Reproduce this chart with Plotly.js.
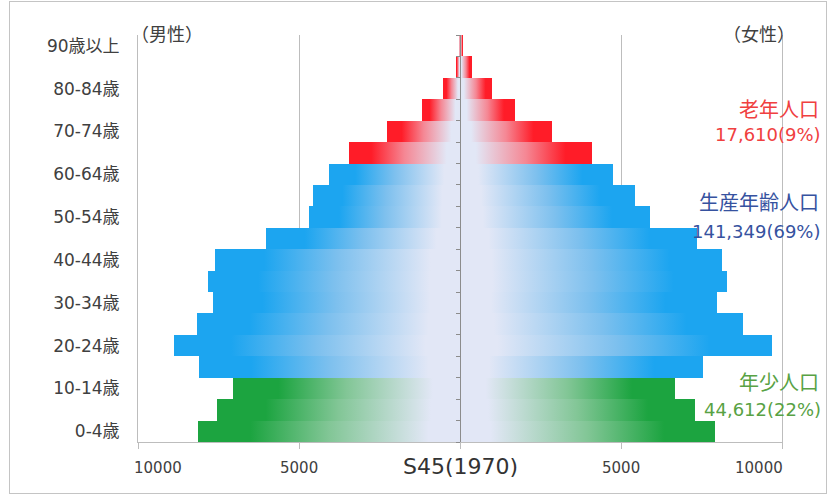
<!DOCTYPE html>
<html>
<head>
<meta charset="utf-8">
<script src="https://cdn.plot.ly/plotly-3.0.1.min.js"></script>
<style>
  html, body { margin: 0; padding: 0; background: #fff; }
  #wrap { position: relative; width: 829px; height: 495px; }
  #chart { width: 829px; height: 495px; }
  #frame { position: absolute; left: 9px; top: 1px; width: 816px; height: 491px;
           border: 1px solid #c4c4c4; pointer-events: none; }
  .js-fill { shape-rendering: crispEdges; }
</style>
</head>
<body>
<div id="wrap"><div id="chart"></div><div id="frame"></div></div>
<script>
// ---- data ----
const ageGroups = ['0-4歳','5-9歳','10-14歳','15-19歳','20-24歳','25-29歳','30-34歳','35-39歳',
  '40-44歳','45-49歳','50-54歳','55-59歳','60-64歳','65-69歳','70-74歳','75-79歳','80-84歳','85-89歳','90歳以上'];
const male   = [8137,7547,7050,8106,8882,8168,7671,7826,7609,6025,4689,4565,4068,3447,2267,1180,528,124,40];
const female = [7919,7298,6677,7547,9689,8789,7981,8292,8137,7360,5900,5435,4752,4100,2857,1708,994,370,100];
// 0 = 年少, 1 = 生産年齢, 2 = 老年
const groupOf = [0,0,0,1,1,1,1,1,1,1,1,1,1,2,2,2,2,2,2];
const groupNames  = ['年少人口','生産年齢人口','老年人口'];
const groupTotals = ['44,612(22%)','141,349(69%)','17,610(9%)'];
const xTickVals   = [-10000,-5000,5000,10000];
const xTickText   = ['10000','5000','5000','10000'];
const chartTitle  = 'S45(1970)';
const sexLabels   = ['（男性）','（女性）'];

// ---- styles ----
const pale = 'rgb(226,231,246)';
const endColors = ['rgb(28,164,64)','rgb(28,165,240)','rgb(255,28,40)'];
const midColors = ['rgb(130,198,150)','rgb(125,192,238)','rgb(245,135,148)'];
const textColors = ['#58a244','#36529f','#f04040'];

function scaleFor(g, reversed) {
  const s = [[0, pale],[0.12, pale],[0.5, midColors[g]],[0.8, endColors[g]],[1, endColors[g]]];
  if (!reversed) return s;
  return s.map(([p,c]) => [1-p, c]).reverse();
}

const traces = [];
ageGroups.forEach((lab, i) => {
  const g = groupOf[i];
  [[-male[i], true], [female[i], false]].forEach(([v, left]) => {
    traces.push({
      type: 'scatter', mode: 'lines',
      x: [0, v, v, 0, 0],
      y: [i-0.5, i-0.5, i+0.5, i+0.5, i-0.5],
      fill: 'toself',
      line: {width: 0},
      fillcolor: endColors[g],
      fillgradient: {
        type: 'horizontal',
        colorscale: scaleFor(g, left),
        start: left ? v : 0,
        stop: left ? 0 : v
      },
      hoverinfo: 'skip', showlegend: false
    });
  });
});
// dummy trace to anchor the centre axis
traces.push({type:'scatter', x:[0], y:[0], yaxis:'y2', mode:'markers', marker:{opacity:0}, hoverinfo:'skip', showlegend:false});

const L = 138, R = 782, T = 35, B = 442;
const px = x => (x - L) / (R - L);
const py = y => (B - y) / (B - T);

const cjk = 'Noto Sans CJK JP, Noto Sans, sans-serif';
const lat = 'DejaVu Sans, Noto Sans CJK JP, sans-serif';
const annotations = [];
// x tick labels
xTickVals.forEach((v, k) => {
  let anchor = 'center', shift = 0;
  if (k === 0) { anchor = 'left'; shift = -6; }
  if (k === xTickVals.length - 1) { anchor = 'right'; shift = 3; }
  annotations.push({x: v, xref: 'x', y: py(468), yref: 'paper', text: xTickText[k],
    showarrow: false, xanchor: anchor, yanchor: 'middle', xshift: shift,
    font: {family: lat, size: 15, color: '#404040'}});
});
// centre title
annotations.push({x: 0, xref: 'x', y: py(467), yref: 'paper', text: chartTitle, showarrow: false,
  xanchor: 'center', yanchor: 'middle', font: {family: lat, size: 22, color: '#333333'}});
// sex labels
annotations.push({x: px(129), xref: 'paper', y: py(33), yref: 'paper', text: sexLabels[0], showarrow: false,
  xanchor: 'left', yanchor: 'middle', font: {family: cjk, size: 18, color: '#404040'}});
annotations.push({x: px(797), xref: 'paper', y: py(33), yref: 'paper', text: sexLabels[1], showarrow: false,
  xanchor: 'right', yanchor: 'middle', font: {family: cjk, size: 18, color: '#404040'}});
// group summaries
const nameY = [381, 201, 108], totY = [409, 231, 134];
[2, 1, 0].forEach(g => {
  annotations.push({x: px(821), xref: 'paper', y: py(nameY[g]), yref: 'paper', text: groupNames[g], showarrow: false,
    xanchor: 'right', yanchor: 'middle', font: {family: cjk, size: 20, color: textColors[g]}});
  annotations.push({x: px(823), xref: 'paper', y: py(totY[g]), yref: 'paper', text: groupTotals[g], showarrow: false,
    xanchor: 'right', yanchor: 'middle', font: {family: lat, size: 18, color: textColors[g]}});
});

const tickIdx = ageGroups.map((_, i) => i).filter(i => i % 2 === 0);

const layout = {
  width: 829, height: 495,
  margin: {l: L, r: 829 - R, t: T, b: 495 - B, pad: 0},
  paper_bgcolor: '#ffffff', plot_bgcolor: '#ffffff',
  showlegend: false,
  xaxis: {
    range: [-10000, 10000], tickvals: [-10000,-5000,0,5000,10000], showticklabels: false,
    showgrid: true, gridcolor: '#bdbdbd', gridwidth: 1, zeroline: false,
    showline: true, linecolor: '#bdbdbd', linewidth: 1,
    ticks: 'outside', ticklen: 6, tickcolor: '#bdbdbd', fixedrange: true
  },
  yaxis: {
    range: [-0.5, 18.5], tickvals: tickIdx, ticktext: tickIdx.map(i => ageGroups[i]),
    showgrid: false, zeroline: false, showline: true, mirror: true, linecolor: '#bdbdbd', linewidth: 1,
    ticks: '', ticklabelstandoff: 14,
    tickfont: {family: lat, size: 17, color: '#404040'}, fixedrange: true
  },
  yaxis2: {
    overlaying: 'y', anchor: 'free', position: 0.5, side: 'left',
    range: [-0.5, 18.5], tickvals: ageGroups.map((_, i) => i - 0.5).concat([18.5]),
    showticklabels: false, showgrid: false, zeroline: false,
    showline: true, linecolor: '#8c8c8c', linewidth: 1,
    ticks: 'outside', ticklen: 4, tickcolor: '#8c8c8c', fixedrange: true
  },
  annotations: annotations
};

Plotly.newPlot('chart', traces, layout, {displayModeBar: false, staticPlot: true});
</script>
</body>
</html>
